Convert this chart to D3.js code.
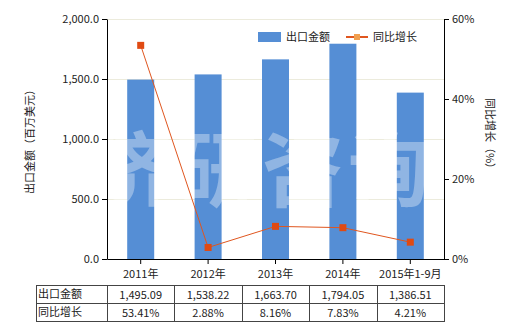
<!DOCTYPE html>
<html lang="zh">
<head>
<meta charset="utf-8">
<title>出口金额</title>
<script src="https://d3js.org/d3.v7.min.js"></script>
<style>
body { margin:0; background:#fff; }
text { font-family: "Noto Sans CJK SC", "Noto Sans", sans-serif; font-size:11px; fill:#222; }
.grid line { stroke:#ecebdc; }
.axis path, .axis line { stroke:#000; }
</style>
</head>
<body>
<div id="chart"></div>
<script>
var categories = ["2011年", "2012年", "2013年", "2014年", "2015年1-9月"];
var exportValues = [1495.09, 1538.22, 1663.70, 1794.05, 1386.51];
var growthValues = [53.41, 2.88, 8.16, 7.83, 4.21];
var exportLabels = ["1,495.09", "1,538.22", "1,663.70", "1,794.05", "1,386.51"];
var growthLabels = ["53.41%", "2.88%", "8.16%", "7.83%", "4.21%"];
var leftTicks = [0, 500, 1000, 1500, 2000];
var rightTicks = [0, 20, 40, 60];

var width = 520, height = 330;
var plotL = 107, plotR = 444, plotT = 19, plotB = 259;

var svg = d3.select("#chart").append("svg").attr("width", width).attr("height", height);

var x = d3.scaleBand().domain(categories).range([plotL, plotR]);
var y = d3.scaleLinear().domain([0, 2000]).range([plotB, plotT]);
var y2 = d3.scaleLinear().domain([0, 60]).range([plotB, plotT]);

// gridlines
svg.append("g").attr("class", "grid").selectAll("line").data(leftTicks.slice(1)).enter().append("line")
	.attr("x1", plotL).attr("x2", plotR).attr("y1", function(d){ return y(d) + 0.5; }).attr("y2", function(d){ return y(d) + 0.5; });

// bars
svg.selectAll(".bar").data(exportValues).enter().append("rect").attr("class", "bar")
	.attr("x", function(d, i){ return x(categories[i]) + x.bandwidth()/2 - 13.5; })
	.attr("width", 27)
	.attr("y", function(d){ return y(d); })
	.attr("height", function(d){ return plotB - y(d); })
	.attr("fill", "#558ed5");

// watermark
svg.append("text").attr("x", 90).attr("y", 200)
	.style("font-size", "82px").style("font-weight", "bold").style("fill", "#fff").style("fill-opacity", 0.35)
	.style("letter-spacing", "4px").text("济研咨询");

// axes
var fmt = d3.format(",.1f");
svg.append("g").attr("class", "axis").attr("transform", "translate(" + plotL + ",0)")
	.call(d3.axisLeft(y).tickValues(leftTicks).tickFormat(fmt).tickSize(5).tickSizeOuter(0).tickPadding(3));
svg.append("g").attr("class", "axis").attr("transform", "translate(" + plotR + ",0)")
	.call(d3.axisRight(y2).tickValues(rightTicks).tickFormat(function(d){ return d + "%"; }).tickSize(5).tickSizeOuter(0).tickPadding(3));
var xa = svg.append("g").attr("class", "axis").attr("transform", "translate(0," + plotB + ")")
	.call(d3.axisBottom(x).tickSize(5).tickSizeOuter(0).tickPadding(6));
svg.selectAll(".axis text").style("font-size", "11px").attr("fill", "#222");

// growth line
var line = d3.line().x(function(d, i){ return x(categories[i]) + x.bandwidth()/2; }).y(function(d){ return y2(d); });
svg.append("path").datum(growthValues).attr("d", line).attr("fill", "none").attr("stroke", "#e0561f").attr("stroke-width", 1);
svg.selectAll(".pt").data(growthValues).enter().append("rect").attr("class", "pt")
	.attr("x", function(d, i){ return x(categories[i]) + x.bandwidth()/2 - 3.5; })
	.attr("y", function(d){ return y2(d) - 3.5; })
	.attr("width", 7).attr("height", 7).attr("fill", "#e04a12");

// axis titles
svg.append("text").attr("transform", "translate(34,139) rotate(-90)").attr("text-anchor", "middle").text("出口金额（百万美元）");
svg.append("text").attr("transform", "translate(486,136) rotate(90)").attr("text-anchor", "middle").text("同比增长（%）");

// legend
svg.append("rect").attr("x", 258).attr("y", 32).attr("width", 23).attr("height", 10).attr("fill", "#558ed5");
svg.append("text").attr("x", 286).attr("y", 41).text("出口金额");
svg.append("line").attr("x1", 346).attr("x2", 368).attr("y1", 37).attr("y2", 37).attr("stroke", "#e0561f").attr("stroke-width", 2);
svg.append("rect").attr("x", 354).attr("y", 34).attr("width", 6).attr("height", 6).attr("fill", "#f0a050");
svg.append("text").attr("x", 373).attr("y", 41).text("同比增长");

// data table
var tTop = 285, rowH = 18, tLeft = 36;
var tbl = svg.append("g");
var rows = [["出口金额", exportLabels], ["同比增长", growthLabels]];
tbl.append("rect").attr("x", tLeft + 0.5).attr("y", tTop + 0.5).attr("width", plotR - tLeft).attr("height", rowH * 2)
	.attr("fill", "none").attr("stroke", "#444");
tbl.append("line").attr("x1", tLeft).attr("x2", plotR).attr("y1", tTop + rowH + 0.5).attr("y2", tTop + rowH + 0.5).attr("stroke", "#444");
[plotL].concat(categories.slice(1).map(function(c){ return x(c); })).forEach(function(cx){
	tbl.append("line").attr("x1", Math.round(cx) + 0.5).attr("x2", Math.round(cx) + 0.5)
		.attr("y1", tTop).attr("y2", tTop + rowH * 2).attr("stroke", "#444");
});
rows.forEach(function(r, ri){
	tbl.append("text").attr("x", tLeft + 2).attr("y", tTop + rowH * ri + 13).text(r[0]);
	r[1].forEach(function(v, i){
		tbl.append("text").attr("x", x(categories[i]) + x.bandwidth()/2).attr("y", tTop + rowH * ri + 14)
			.attr("text-anchor", "middle").text(v);
	});
});
</script>
</body>
</html>
